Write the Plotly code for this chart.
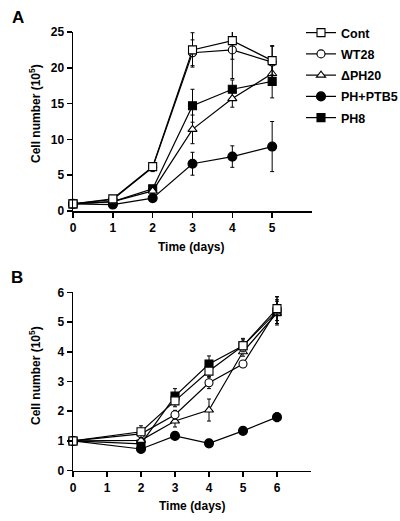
import plotly.graph_objects as go

W, H = 400, 521

# ---------- Panel A data ----------
days_a = [0, 1, 2, 3, 4, 5]
a_cont = [1.0, 1.7, 6.2, 22.5, 23.8, 21.0]
a_cont_err = [0, 0.2, 0.5, 2.4, 2.6, 2.0]
a_wt28 = [1.0, 1.6, 6.1, 22.1, 22.5, 20.8]
a_wt28_err = [0, 0.2, 0.6, 1.8, 4.0, 2.3]
a_dph20 = [1.0, 1.3, 2.8, 11.4, 15.7, 19.2]
a_dph20_err = [0, 0.1, 0.3, 2.0, 1.2, 1.3]
a_phptb5 = [1.0, 0.9, 1.8, 6.6, 7.6, 9.0]
a_phptb5_err = [0, 0.1, 0.2, 1.6, 1.5, 3.5]
a_ph8 = [1.0, 1.3, 3.1, 14.7, 17.0, 18.1]
a_ph8_err = [0, 0.1, 0.3, 2.3, 1.3, 2.3]

# ---------- Panel B data ----------
days_b = [0, 2, 3, 4, 5, 6]
b_cont = [1.0, 1.31, 2.35, 3.35, 4.2, 5.45]
b_cont_err = [0, 0.2, 0.2, 0.2, 0.2, 0.4]
b_wt28 = [1.0, 1.24, 1.88, 2.96, 3.59, 5.4]
b_wt28_err = [0, 0.1, 0.15, 0.2, 0.1, 0.45]
b_dph20 = [1.0, 1.02, 1.67, 2.04, 4.0, 5.3]
b_dph20_err = [0, 0.1, 0.2, 0.37, 0.15, 0.4]
b_phptb5 = [1.0, 0.73, 1.17, 0.92, 1.34, 1.8]
b_phptb5_err = [0, 0.05, 0.08, 0.12, 0.05, 0.15]
b_ph8 = [1.0, 0.9, 2.51, 3.59, 4.2, 5.35]
b_ph8_err = [0, 0.1, 0.25, 0.27, 0.25, 0.4]

names = ["Cont", "WT28", "\u0394PH20", "PH+PTB5", "PH8"]
symbols = ["square", "circle", "triangle-up", "circle", "square"]
fills = ["white", "white", "white", "black", "black"]
sizes = [8, 8, 8, 9, 8]

a_series = [(a_cont, a_cont_err), (a_wt28, a_wt28_err), (a_dph20, a_dph20_err),
            (a_phptb5, a_phptb5_err), (a_ph8, a_ph8_err)]
b_series = [(b_cont, b_cont_err), (b_wt28, b_wt28_err), (b_dph20, b_dph20_err),
            (b_phptb5, b_phptb5_err), (b_ph8, b_ph8_err)]

FONT = "Liberation Sans, Arial, Helvetica, sans-serif"

fig = go.Figure()

order = [4, 3, 2, 1, 0]
for i in order:
    y, e = a_series[i]
    fig.add_trace(go.Scatter(
        x=days_a, y=y, name=names[i], mode="lines+markers",
        line=dict(color="black", width=1.2),
        marker=dict(symbol=symbols[i], size=sizes[i], color=fills[i],
                    line=dict(color="black", width=1.1)),
        error_y=dict(type="data", array=e, visible=True, color="black",
                     thickness=1, width=2),
        cliponaxis=False, legendrank=i + 1, legendgroup=str(i),
        xaxis="x", yaxis="y"))

for i in order:
    y, e = b_series[i]
    fig.add_trace(go.Scatter(
        x=days_b, y=y, name=names[i], mode="lines+markers", showlegend=False,
        line=dict(color="black", width=1.2),
        marker=dict(symbol=symbols[i], size=sizes[i], color=fills[i],
                    line=dict(color="black", width=1.1)),
        error_y=dict(type="data", array=e, visible=True, color="black",
                     thickness=1, width=2),
        cliponaxis=False, xaxis="x2", yaxis="y2"))

def px_x(p):
    return p / W

def px_y(p):
    return (H - p) / H

axis_common = dict(
    showgrid=False, zeroline=False, showline=True, linecolor="black",
    linewidth=1.5, ticks="outside", ticklen=5, tickwidth=1.5, tickcolor="black",
    tickfont=dict(family=FONT, size=12, color="black", weight="bold"),
    fixedrange=True, automargin=False,
)

def label(text, x, y, size=12, angle=0, xa="center", ya="middle"):
    return dict(text=text, x=px_x(x), y=px_y(y), xref="paper", yref="paper",
                xanchor=xa, yanchor=ya, showarrow=False, textangle=angle,
                font=dict(family=FONT, size=size, color="black"))

fig.update_layout(
    width=W, height=H,
    margin=dict(l=0, r=0, t=0, b=0, pad=0, autoexpand=False),
    paper_bgcolor="white", plot_bgcolor="white",
    hovermode=False,
    xaxis=dict(domain=[px_x(73), px_x(312)], range=[0, 6], tickvals=[0, 1, 2, 3, 4, 5],
               anchor="y", **axis_common),
    yaxis=dict(domain=[px_y(211), px_y(32)], range=[0, 25], tickvals=[0, 5, 10, 15, 20, 25],
               anchor="x", **axis_common),
    xaxis2=dict(domain=[px_x(73), px_x(311)], range=[0, 7], tickvals=[0, 1, 2, 3, 4, 5, 6],
                anchor="y2", **axis_common),
    yaxis2=dict(domain=[px_y(470.7), px_y(292.3)], range=[0, 6], tickvals=[0, 1, 2, 3, 4, 5, 6],
                anchor="x2", **axis_common),
    showlegend=True,
    legend=dict(x=px_x(301), y=px_y(18), xanchor="left", yanchor="top",
                font=dict(family=FONT, size=12.5, color="black", weight="bold"),
                itemwidth=30, tracegroupgap=2, bgcolor="rgba(0,0,0,0)"),
    annotations=[
        label("<b>A</b>", 18, 17, size=17),
        label("<b>B</b>", 17, 277, size=17),
        label("<b>Cell number (10<sup>5</sup>)</b>", 35, 114, angle=-90),
        label("<b>Cell number (10<sup>5</sup>)</b>", 35, 376, angle=-90),
        label("<b>Time (days)</b>", 191, 247),
        label("<b>Time (days)</b>", 192, 506),
    ],
)

fig.write_html(
    "out.html",
    config={"displayModeBar": False, "staticPlot": True},
    post_script="document.body.style.margin='0';document.body.style.padding='0';"
                "document.documentElement.style.overflow='hidden';",
)
